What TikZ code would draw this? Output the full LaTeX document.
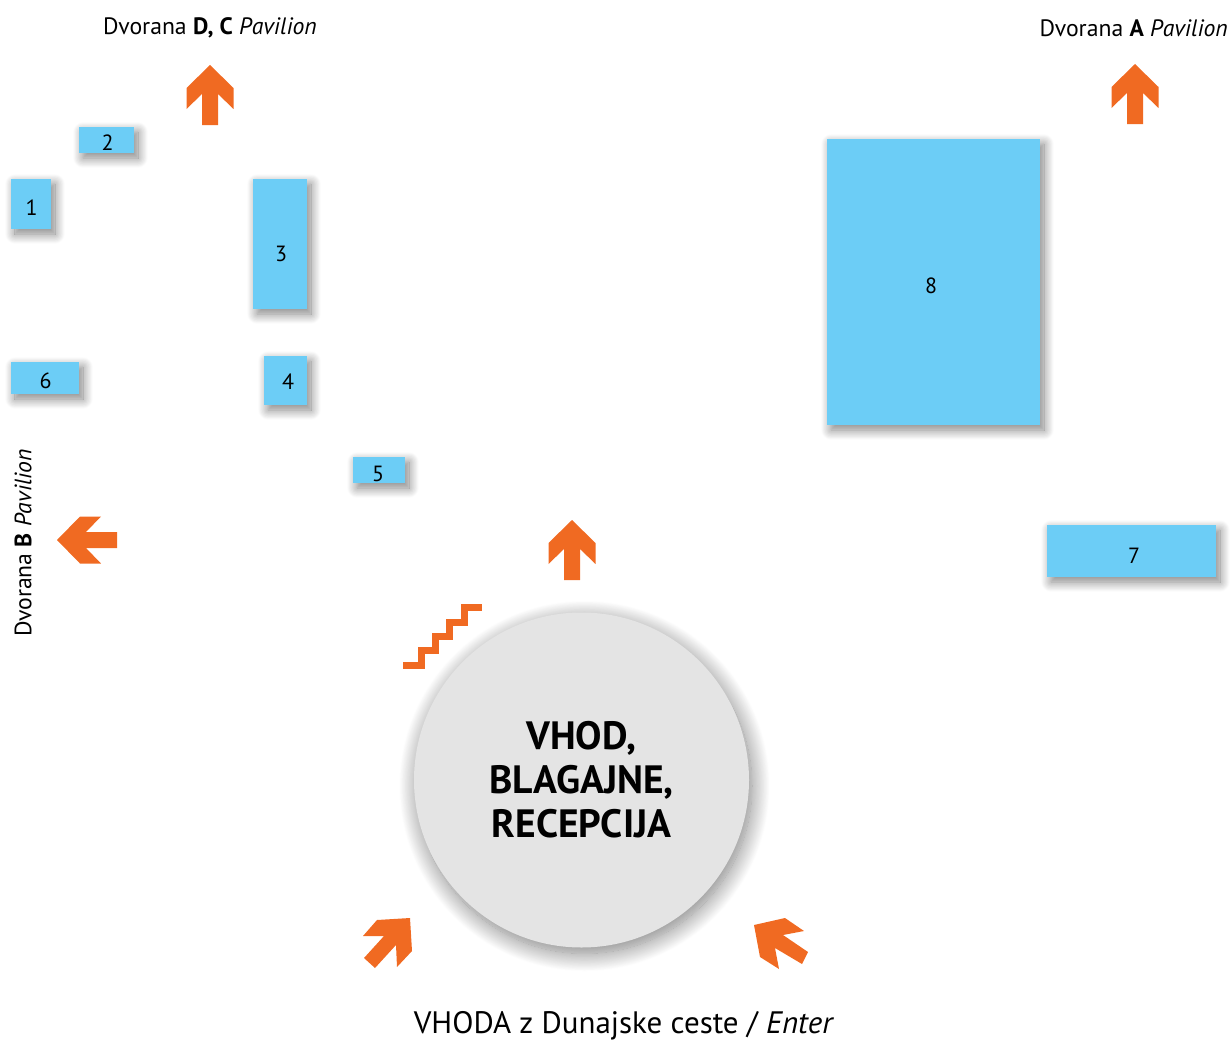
\documentclass[tikz,border=0pt]{standalone}
\usepackage{fontspec}
\setmainfont{PT Sans}
\usetikzlibrary{shadows.blur}
\definecolor{stand}{HTML}{6CCDF6}
\definecolor{arrowor}{HTML}{F06A22}
\definecolor{hub}{HTML}{E4E4E4}
\tikzset{
  standbox/.style={fill=stand,draw=none,inner sep=0pt,
    blur shadow={shadow xshift=4pt,shadow yshift=-5pt,shadow blur radius=10pt,shadow blur steps=16,shadow opacity=50}},
  num/.style={font=\fontsize{22}{24}\selectfont,inner sep=0pt,text=black},
  lab/.style={font=\fontsize{23.7}{26}\selectfont,inner sep=0pt,text=black},
  orange/.style={fill=arrowor,draw=none},
  uparrow/.pic={\fill[arrowor] (0,0)--(23.5,23)--(23.5,44)--(8,29)--(8,60)--(-8,60)--(-8,29)--(-23.5,44)--(-23.5,23)--cycle;}
}
\begin{document}
\begin{tikzpicture}[x=1pt,y=-1pt]
\useasboundingbox (0,0) rectangle (1231,1041);
% stands
\path[standbox] (11,179) rectangle (51,229);
\path[standbox] (79,127) rectangle (134,153);
\path[standbox] (253,179) rectangle (307,309);
\path[standbox] (264,356) rectangle (307,405);
\path[standbox] (353,457) rectangle (405,483);
\path[standbox] (11,362) rectangle (79,394);
\path[standbox] (1047,525) rectangle (1216,577);
\path[standbox] (827,139) rectangle (1040,425);
\node[num] (n1) at (31.5,208) {1};
\node[num] (n2) at (107.5,143) {2};
\node[num] (n3) at (281,254) {3};
\node[num] (n4) at (288,382) {4};
\node[num] (n5) at (378,474) {5};
\node[num] (n6) at (45.5,381) {6};
\node[num] (n7) at (1134,556) {7};
\node[num] (n8) at (931,286) {8};
% hub
\node[circle,fill=hub,minimum size=335pt,inner sep=0pt,outer sep=0pt,align=center,
  font=\fontsize{39.5}{44}\selectfont\bfseries,
  blur shadow={shadow xshift=3pt,shadow yshift=-6pt,shadow blur radius=18pt,shadow blur steps=24,shadow opacity=50}]
  (hubnode) at (581.5,780) {VHOD,\\BLAGAJNE,\\RECEPCIJA};
% arrows
\pic at (210,65) {uparrow};
\pic at (1135,64) {uparrow};
\pic at (572,520) {uparrow};
\pic[rotate=90] at (57,540) {uparrow};
\fill[orange] (410,918)--(377,920)--(363,936)--(384,936)--(364,958)--(375,968)--(396,945)--(397,967)--(412,951)--cycle;
\fill[orange] (754,925)--(785,918)--(804,931)--(783,935)--(808,952)--(802,964)--(775,948)--(779,969)--(760,957)--cycle;
% stairs
\draw[arrowor,line width=7pt,miter limit=10] (403,665)--(421,665)--(421,650)--(435,650)--(435,636)--(449,636)--(449,622)--(464,622)--(464,607)--(482,607);
% labels
\node[lab] (dc) at (210,28) {Dvorana \textbf{D, C} \textit{Pavilion}};
\node[lab,anchor=east] (da) at (1228,28) {Dvorana \textbf{A} \textit{Pavilion}};
\node[lab,rotate=90] (db) at (23,543) {Dvorana \textbf{B} \textit{Pavilion}};
\node[font=\fontsize{31}{34}\selectfont,inner sep=0pt] (enter) at (624,1026) {VHODA z Dunajske ceste / \textit{Enter}};
\end{tikzpicture}
\end{document}
